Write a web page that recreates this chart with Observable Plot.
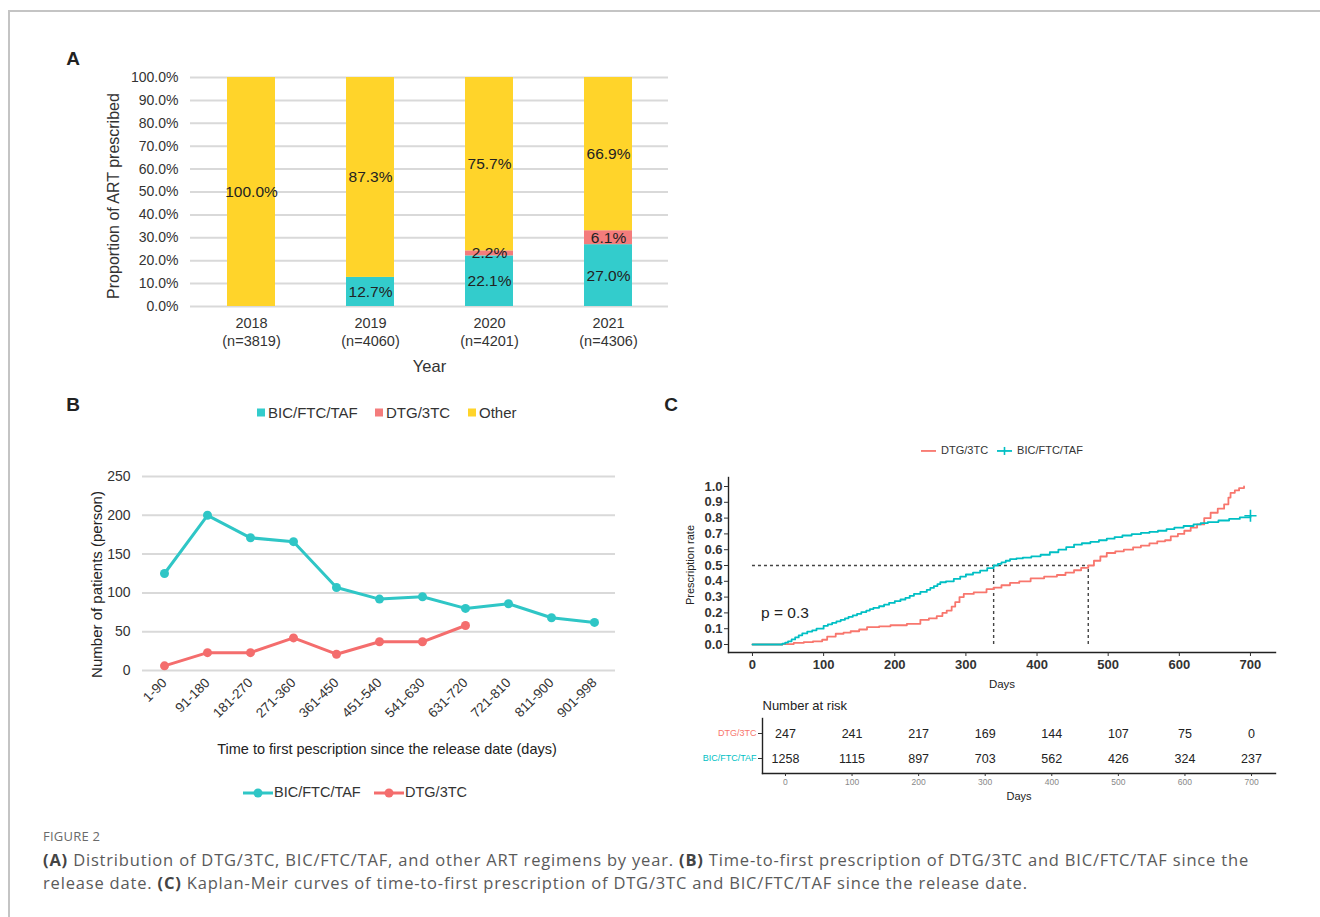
<!DOCTYPE html>
<html><head><meta charset="utf-8">
<script src="https://cdn.jsdelivr.net/npm/d3@7"></script>
<script src="https://cdn.jsdelivr.net/npm/@observablehq/plot@0.6"></script>
<style>
body{margin:0;background:#fff;}
#page{position:relative;width:1320px;height:917px;overflow:hidden;font-family:"Liberation Sans",Arial,sans-serif;color:#222;background:#fff;}
.abs{position:absolute;white-space:nowrap;}
</style></head><body><div id="page"></div>
<script>
// ---------- Panel A data ----------
const years = ["2018", "2019", "2020", "2021"];
const yearN = ["(n=3819)", "(n=4060)", "(n=4201)", "(n=4306)"];
const regimens = ["BIC/FTC/TAF", "DTG/3TC", "Other"];
const bicPct = [0, 12.7, 22.1, 27.0];
const dtgPct = [0, 0, 2.2, 6.1];
const otherPct = [100, 87.3, 75.7, 66.9];
const pctTicks = [0, 10, 20, 30, 40, 50, 60, 70, 80, 90, 100];

// ---------- Panel B data ----------
const bins = ["1-90", "91-180", "181-270", "271-360", "361-450", "451-540", "541-630", "631-720", "721-810", "811-900", "901-998"];
const bicCounts = [125, 200, 171, 166, 107, 92, 95, 80, 86, 68, 62];
const dtgCounts = [6, 23, 23, 42, 21, 37, 37, 58];
const countTicks = [0, 50, 100, 150, 200, 250];

// ---------- Panel C data ----------
const dtgDays = [0, 42, 58, 72, 85, 98, 105, 117, 128, 138, 150, 161, 178, 194, 217, 236, 248, 259, 267, 273, 280, 285, 291, 297, 311, 329, 339, 350, 362, 375, 391, 410, 428, 440, 452, 462, 472, 480, 489, 498, 510, 522, 535, 546, 558, 569, 580, 588, 598, 607, 616, 625, 635, 644, 654, 663, 669, 672, 678, 684, 691];
const dtgRate = [0, 0.003, 0.01, 0.015, 0.02, 0.03, 0.05, 0.068, 0.075, 0.084, 0.095, 0.11, 0.115, 0.122, 0.131, 0.156, 0.165, 0.18, 0.2, 0.215, 0.24, 0.268, 0.3, 0.32, 0.33, 0.35, 0.36, 0.375, 0.39, 0.4, 0.419, 0.43, 0.44, 0.455, 0.47, 0.485, 0.5, 0.53, 0.557, 0.579, 0.59, 0.6, 0.615, 0.626, 0.64, 0.653, 0.66, 0.685, 0.7, 0.72, 0.74, 0.76, 0.8, 0.834, 0.86, 0.887, 0.93, 0.96, 0.975, 0.99, 1.0];
const bicDays = [0, 42, 46, 50, 55, 60, 65, 70, 77, 84, 90, 100, 106, 112, 118, 124, 130, 135, 141, 147, 153, 160, 165, 170, 178, 185, 192, 200, 208, 215, 221, 227, 236, 245, 250, 255, 260, 264, 272, 283, 292, 300, 310, 320, 330, 339, 345, 350, 356, 362, 371, 380, 392, 405, 418, 430, 441, 452, 463, 475, 487, 498, 509, 520, 533, 546, 558, 570, 582, 593, 606, 620, 630, 640, 655, 670, 685, 700];
const bicRate = [0, 0.005, 0.012, 0.02, 0.032, 0.045, 0.058, 0.07, 0.082, 0.09, 0.1, 0.118, 0.128, 0.137, 0.147, 0.156, 0.166, 0.175, 0.185, 0.194, 0.205, 0.215, 0.224, 0.232, 0.242, 0.252, 0.263, 0.274, 0.285, 0.295, 0.308, 0.32, 0.333, 0.346, 0.358, 0.37, 0.382, 0.394, 0.4, 0.415, 0.43, 0.443, 0.455, 0.468, 0.484, 0.5, 0.51, 0.52, 0.53, 0.54, 0.545, 0.55, 0.558, 0.568, 0.584, 0.6, 0.616, 0.632, 0.641, 0.65, 0.66, 0.67, 0.68, 0.69, 0.698, 0.706, 0.713, 0.72, 0.73, 0.74, 0.75, 0.76, 0.768, 0.775, 0.785, 0.795, 0.805, 0.815];
const medianDTG = 472;
const medianBIC = 339;
const pValueText = "p = 0.3";
const rateTicks = [0, 0.1, 0.2, 0.3, 0.4, 0.5, 0.6, 0.7, 0.8, 0.9, 1.0];
const dayTicks = [0, 100, 200, 300, 400, 500, 600, 700];
const riskGroups = ["DTG/3TC", "BIC/FTC/TAF"];
const riskDTG = [247, 241, 217, 169, 144, 107, 75, 0];
const riskBIC = [1258, 1115, 897, 703, 562, 426, 324, 237];

// ---------- colors ----------
const teal = "#33CCCC", pink = "#F47C7C", yellow = "#FFD42A";
const lineTeal = "#2FC6C6", lineRed = "#F46D6D";
const kmRed = "#F8766D", kmTeal = "#00BFC4";

const page = document.getElementById("page");
const FONT = "Liberation Sans, Arial, sans-serif";
function place(el, left, top) {
  const d = document.createElement("div");
  d.className = "abs"; d.style.left = left + "px"; d.style.top = top + "px";
  d.append(el); page.append(d); return d;
}
function label(html, x, y, css = "", anchor = "left") {
  const d = document.createElement("div");
  d.className = "abs"; d.innerHTML = html;
  d.style.left = x + "px"; d.style.top = y + "px";
  const tx = anchor === "left" ? "0" : anchor === "center" ? "-50%" : "-100%";
  d.style.cssText += css;
  d.style.transform = `translate(${tx},-50%)`;
  page.append(d); return d;
}

// frame lines
const fr = document.createElement("div");
fr.className = "abs";
fr.style.cssText += "left:8px;top:10px;width:1330px;height:930px;border-top:2px solid #c4c4c4;border-left:2px solid #c4c4c4;";
page.append(fr);

// panel letters
label("A", 73, 59, "font-weight:bold;font-size:19px;", "center");
label("B", 73, 405, "font-weight:bold;font-size:19px;", "center");
label("C", 671, 405, "font-weight:bold;font-size:19px;", "center");

// ---------- Panel A ----------
const tableA = years.flatMap((y, i) => [
  {year: y, regimen: regimens[0], pct: bicPct[i]},
  {year: y, regimen: regimens[1], pct: dtgPct[i]},
  {year: y, regimen: regimens[2], pct: otherPct[i]}
]).filter(d => d.pct > 0);

const chartA = Plot.plot({
  width: 620, height: 340,
  marginLeft: 130, marginRight: 12, marginTop: 37, marginBottom: 74,
  style: {fontFamily: FONT, color: "#333", background: "transparent"},
  x: {domain: years, paddingInner: 0.598, paddingOuter: 0.299, axis: null},
  y: {domain: [0, 100], axis: null},
  color: {domain: regimens, range: [teal, pink, yellow]},
  marks: [
    Plot.gridY(pctTicks, {stroke: "#d9d9d9", strokeOpacity: 1, strokeWidth: 2}),
    Plot.barY(tableA, Plot.stackY({x: "year", y: "pct", z: "regimen", fill: "regimen", order: regimens})),
    Plot.text(tableA, Plot.stackY({x: "year", y: "pct", z: "regimen", order: regimens,
      text: d => d.pct.toFixed(1) + "%", fontSize: 15.5, fill: "#222"})),
    Plot.axisY(pctTicks, {tickFormat: d => d.toFixed(1) + "%", tickSize: 0, tickPadding: 12, fontSize: 14, label: null}),
    Plot.text(years, {x: d => d, text: d => d, frameAnchor: "bottom", dy: 21, fontSize: 14.5, fill: "#333"}),
    Plot.text(years.map((y, i) => ({y, n: yearN[i]})), {x: "y", text: "n", frameAnchor: "bottom", dy: 39, fontSize: 14.5, fill: "#333"}),
    Plot.text(["Year"], {text: d => d, frameAnchor: "bottom", dy: 65, fontSize: 16.5, fill: "#333"}),
    Plot.text(["Proportion of ART prescribed"], {text: d => d, frameAnchor: "left", textAnchor: "middle", rotate: -90, dx: -77, dy: 4, fontSize: 16, fill: "#333"})
  ]
});
place(chartA, 60, 40);

// Legend A (between A and B)
function sqItem(color, text, x) {
  label(`<span style="display:inline-block;width:8px;height:8px;background:${color};margin-right:3px;vertical-align:1px"></span>${text}`,
    x, 412, "font-size:15px;color:#333;");
}
sqItem(teal, "BIC/FTC/TAF", 257);
sqItem(pink, "DTG/3TC", 375);
sqItem(yellow, "Other", 468);

// ---------- Panel B ----------
const bicSeries = bicCounts.map((v, i) => ({bin: bins[i], v}));
const dtgSeries = dtgCounts.map((v, i) => ({bin: bins[i], v}));
const chartB = Plot.plot({
  width: 600, height: 330,
  marginLeft: 82, marginRight: 45, marginTop: 36, marginBottom: 100,
  style: {fontFamily: FONT, color: "#333", background: "transparent"},
  x: {type: "point", domain: bins, padding: 0.5, axis: null},
  y: {domain: [0, 250], axis: null},
  marks: [
    Plot.gridY(countTicks, {stroke: "#d9d9d9", strokeOpacity: 1, strokeWidth: 2}),
    Plot.axisY(countTicks, {tickSize: 0, tickPadding: 12, fontSize: 14, label: null}),
    Plot.axisX(bins, {tickSize: 0, tickPadding: 10, tickRotate: -45, fontSize: 13.5, label: null}),
    Plot.line(bicSeries, {x: "bin", y: "v", stroke: lineTeal, strokeWidth: 3}),
    Plot.dot(bicSeries, {x: "bin", y: "v", r: 4.5, fill: lineTeal}),
    Plot.line(dtgSeries, {x: "bin", y: "v", stroke: lineRed, strokeWidth: 3}),
    Plot.dot(dtgSeries, {x: "bin", y: "v", r: 4.5, fill: lineRed}),
    Plot.text(["Time to first pescription since the release date (days)"], {text: d => d, frameAnchor: "bottom", dy: 83, dx: 8, fontSize: 14.5, fill: "#222"}),
    Plot.text(["Number of patients (person)"], {text: d => d, frameAnchor: "left", textAnchor: "middle", rotate: -90, dx: -45, dy: 11, fontSize: 15, fill: "#222"})
  ]
});
place(chartB, 60, 440);

// Legend B
function lineItem(color, text, x) {
  label(`<svg width="32" height="10" style="vertical-align:middle"><line x1="1" y1="5" x2="31" y2="5" stroke="${color}" stroke-width="3"/><circle cx="16" cy="5" r="4.5" fill="${color}"/></svg>${text}`,
    x, 792, "font-size:14.5px;color:#333;");
}
lineItem(lineTeal, "BIC/FTC/TAF", 242);
lineItem(lineRed, "DTG/3TC", 373);

// ---------- Panel C ----------
const dtgKM = dtgDays.map((d, i) => ({day: d, rate: dtgRate[i]}));
const bicKM = bicDays.map((d, i) => ({day: d, rate: bicRate[i]}));
const chartC = Plot.plot({
  width: 620, height: 240,
  marginLeft: 58, marginRight: 15, marginTop: 17, marginBottom: 48,
  style: {fontFamily: FONT, color: "#333", background: "transparent"},
  x: {domain: [-33.7, 735.2], axis: null},
  y: {domain: [-0.0506, 1.057], axis: null},
  marks: [
    Plot.ruleY([0.5], {x1: 0, x2: medianDTG, stroke: "#444", strokeWidth: 1.4, strokeDasharray: "3,3"}),
    Plot.ruleX([medianBIC, medianDTG], {y1: 0, y2: 0.5, stroke: "#444", strokeWidth: 1.4, strokeDasharray: "3,3"}),
    Plot.line(dtgKM, {x: "day", y: "rate", curve: "step-after", stroke: kmRed, strokeWidth: 1.8}),
    Plot.line(bicKM, {x: "day", y: "rate", curve: "step-after", stroke: kmTeal, strokeWidth: 1.8}),
    Plot.dot([bicKM[bicKM.length - 1]], {x: "day", y: "rate", symbol: "plus", r: 4, stroke: kmTeal, strokeWidth: 1.6}),
    Plot.text([pValueText], {text: d => d, x: 12, y: 0.2, textAnchor: "start", fontSize: 15.5, fill: "#222"}),
    Plot.frame({anchor: "left", stroke: "#222", strokeWidth: 1.4}),
    Plot.frame({anchor: "bottom", stroke: "#222", strokeWidth: 1.4}),
    Plot.axisY(rateTicks, {tickSize: 4, tickPadding: 2, tickFormat: d => d.toFixed(1), fontSize: 13, fontWeight: "bold", fill: "#333", label: null}),
    Plot.axisX(dayTicks, {tickSize: 4, tickPadding: 3, fontSize: 13, fontWeight: "bold", fill: "#333", label: null}),
    Plot.text(["Days"], {text: d => d, frameAnchor: "bottom", dy: 35, fontSize: 11.5, fill: "#222"}),
    Plot.text(["Prescription rate"], {text: d => d, frameAnchor: "left", textAnchor: "middle", rotate: -90, dx: -38, fontSize: 11, fill: "#222"})
  ]
});
place(chartC, 670, 460);

// Legend C
label(`<svg width="18" height="10" style="vertical-align:middle"><line x1="1" y1="5" x2="16" y2="5" stroke="${kmRed}" stroke-width="1.8"/></svg> DTG/3TC`,
  920, 450, "font-size:11px;color:#333;");
label(`<svg width="18" height="10" style="vertical-align:middle"><line x1="1" y1="5" x2="16" y2="5" stroke="${kmTeal}" stroke-width="1.8"/><line x1="8.5" y1="1" x2="8.5" y2="9" stroke="${kmTeal}" stroke-width="1.6"/></svg> BIC/FTC/TAF`,
  996, 450, "font-size:11px;color:#333;");

// Risk table
const riskRows = dayTicks.flatMap((d, i) => [
  {day: d, group: riskGroups[0], n: riskDTG[i]},
  {day: d, group: riskGroups[1], n: riskBIC[i]}
]);
const chartT = Plot.plot({
  width: 600, height: 120,
  marginLeft: 72, marginRight: 15, marginTop: 28, marginBottom: 37,
  style: {fontFamily: FONT, color: "#333", background: "transparent"},
  x: {domain: [-34.5, 736], axis: null},
  y: {type: "point", domain: riskGroups, range: [43, 68], padding: 0, axis: null},
  marks: [
    Plot.frame({anchor: "left", stroke: "#222", strokeWidth: 1.4}),
    Plot.frame({anchor: "bottom", stroke: "#222", strokeWidth: 1.4}),
    Plot.text(riskRows, {x: "day", y: "group", text: d => String(d.n), fontSize: 12.5, fill: "#222"}),
    Plot.axisY(riskGroups, {tickSize: 4, tickFormat: () => "", label: null}),
    Plot.text([riskGroups[0]], {y: d => d, text: d => d, frameAnchor: "left", dx: -6, textAnchor: "end", fontSize: 9, fill: kmRed}),
    Plot.text([riskGroups[1]], {y: d => d, text: d => d, frameAnchor: "left", dx: -6, textAnchor: "end", fontSize: 9, fill: kmTeal}),
    Plot.axisX(dayTicks, {tickSize: 3, tickPadding: 2, fontSize: 8.5, fill: "#888", label: null}),
    Plot.text(["Days"], {text: d => d, frameAnchor: "bottom", dy: 26, fontSize: 11, fill: "#222"}),
    Plot.text(["Number at risk"], {text: d => d, frameAnchor: "top-left", dy: -18, textAnchor: "start", fontSize: 13, fill: "#222"})
  ]
});
place(chartT, 690, 690);

// Caption
const fig = label("FIGURE 2", 43, 836, "font-family:'Open Sans',sans-serif;font-size:13px;color:#6a6a6a;letter-spacing:0.6px;");
const cap1 = label('<b style="color:#444">(A)</b> Distribution of DTG/3TC, BIC/FTC/TAF, and other ART regimens by year. <b style="color:#444">(B)</b> Time-to-first prescription of DTG/3TC and BIC/FTC/TAF since the',
  43, 859, "font-family:'Open Sans',sans-serif;font-size:16.5px;color:#5a5a5a;");
const cap2 = label('release date. <b style="color:#444">(C)</b> Kaplan-Meir curves of time-to-first prescription of DTG/3TC and BIC/FTC/TAF since the release date.',
  43, 882, "font-family:'Open Sans',sans-serif;font-size:16.5px;color:#5a5a5a;");
// fit caption line 1 to the reference width (43 → 1249)
function fitWidth(el, target, ref) {
  const w = el.getBoundingClientRect().width;
  const n = el.textContent.length;
  const ls = (target - w) / n;
  el.style.letterSpacing = ls + "px";
  if (ref) ref.style.letterSpacing = ls + "px";
}
fitWidth(cap1, 1206, cap2);
fitWidth(fig, 62);
</script></body></html>
